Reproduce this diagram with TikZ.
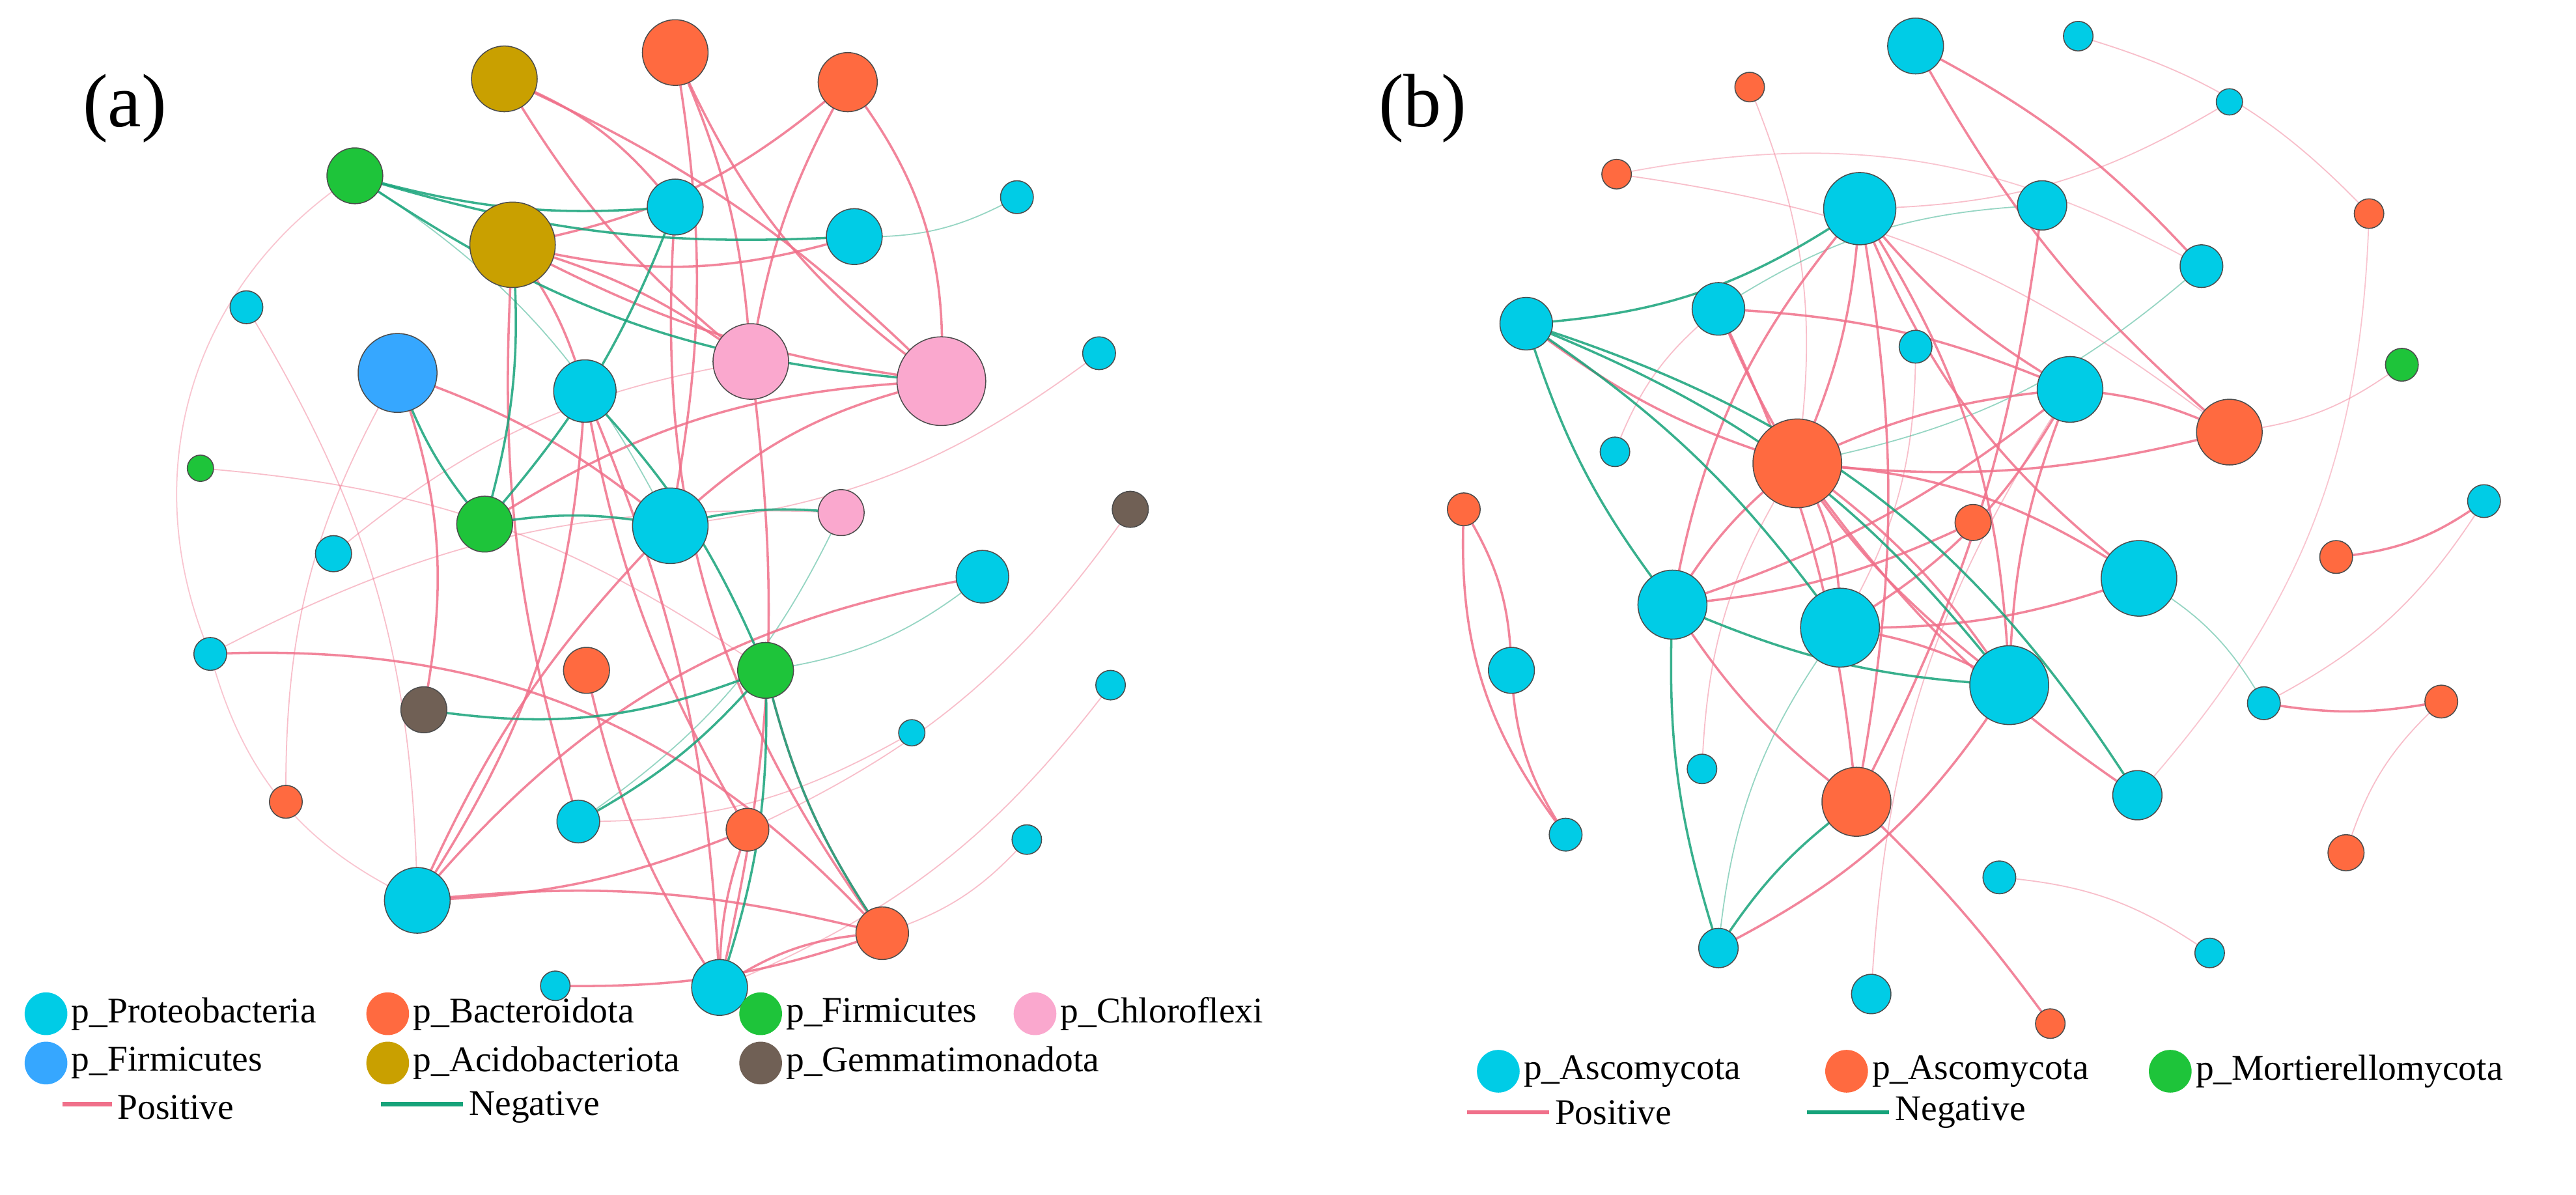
\documentclass[tikz,border=0pt]{standalone}
\usepackage{fontspec}
\setmainfont{Liberation Serif}
\begin{document}
\begin{tikzpicture}[x=1pt,y=-1pt,
 nd/.style={circle,draw=black!70,line width=0.6pt,inner sep=0pt},
 cy/.style={nd,fill=cyanC}, orn/.style={nd,fill=orC}, gr/.style={nd,fill=grC},
 bl/.style={nd,fill=blC}, go/.style={nd,fill=goC}, pk/.style={nd,fill=pkC}, br/.style={nd,fill=brC},
 posE/.style={draw=posC,line width=1.4pt,opacity=0.85},
 negE/.style={draw=negC,line width=1.4pt,opacity=0.85},
 lt/.style={font=\fontsize{22}{24}\selectfont,anchor=west}]
\definecolor{cyanC}{RGB}{0,204,230}
\definecolor{orC}{RGB}{255,106,64}
\definecolor{grC}{RGB}{30,196,58}
\definecolor{blC}{RGB}{54,167,255}
\definecolor{goC}{RGB}{201,160,0}
\definecolor{pkC}{RGB}{250,168,206}
\definecolor{brC}{RGB}{112,96,85}
\definecolor{posC}{RGB}{240,112,138}
\definecolor{negC}{RGB}{22,163,122}
\useasboundingbox (0,0) rectangle (1568,727);
\fill[white] (0,0) rectangle (1568,727);
\foreach \n/\x/\y/\r/\s in {a1/411/32/20/orn,a2/307/48/20/go,a3/516/50/18/orn,a4/216/107/17/gr,a5/411/126/17/cy,a6/520/144/17/cy,a7/619/120/10/cy,a8/312/149/26/go,a9/150/187/10/cy,a10/242/227/24/bl,a11/356/238/19/cy,a12/457/220/23/pk,a13/573/232/27/pk,a14/669/215/10/cy,a15/122/285/8/gr,a16/688/310/11/br,a17/203/337/11/cy,a18/295/319/17/gr,a19/408/320/23/cy,a20/512/312/14/pk,a21/598/351/16/cy,a22/128/398/10/cy,a23/357/408/14/orn,a24/466/408/17/gr,a25/258/432/14/br,a26/676/417/9/cy,a27/555/446/8/cy,a28/174/488/10/orn,a29/352/500/13/cy,a30/455/505/13/orn,a31/625/511/9/cy,a32/254/548/20/cy,a33/537/568/16/orn,a34/338/600/9/cy,a35/438/601/17/cy,
b1/1166/28/17/cy,b2/1265/22/9/cy,b3/1065/53/9/orn,b4/1357/62/8/cy,b5/984/106/9/orn,b6/1132/127/22/cy,b7/1243/125/15/cy,b8/1442/130/9/orn,b9/1340/162/13/cy,b10/1046/188/16/cy,b11/929/197/16/cy,b12/1166/211/10/cy,b13/1260/237/20/cy,b14/1462/222/10/gr,b15/1094/282/27/orn,b16/1357/263/20/orn,b17/983/275/9/cy,b18/1512/305/10/cy,b19/891/310/10/orn,b20/1201/318/11/orn,b21/1422/339/10/orn,b22/1018/368/21/cy,b23/1302/352/23/cy,b24/1120/382/24/cy,b25/920/408/14/cy,b26/1223/417/24/cy,b27/1378/428/10/cy,b28/1486/427/10/orn,b29/1036/468/9/cy,b30/1130/488/21/orn,b31/1301/484/15/cy,b32/953/508/10/cy,b33/1428/519/11/orn,b34/1217/534/10/cy,b35/1345/580/9/cy,b36/1046/577/12/cy,b37/1139/605/12/cy,b38/1248/623/9/orn}
 {\coordinate (\n) at (\x,\y);}
% faint edges
\foreach \a/\b in {a9/a32,a15/a24,a17/a12,a16/a30,a14/a19,a26/a35,a31/a33,a27/a29,a28/a10,a22/a20,b2/b8,b4/b6,b5/b16,b3/b15,b14/b16,b18/b27,b17/b10,b12/b24,b29/b15,b34/b35,b33/b28,b37/b13}
 {\draw[posE,line width=0.7pt,opacity=0.45] (\a) to[bend left=15] (\b);}
\draw[posE,line width=0.7pt,opacity=0.4] (a4) to[bend right=40] (a22);
\draw[posE,line width=0.7pt,opacity=0.4] (a22) to[bend right=25] (a32);
\draw[posE,line width=0.7pt,opacity=0.4] (b5) to[bend left=20] (b9);
\draw[posE,line width=0.7pt,opacity=0.4] (b8) to[bend left=20] (b31);
\foreach \a/\b in {a7/a6,a4/a19,a20/a29,a21/a24,b10/b7,b23/b27,b9/b15,b36/b24}
 {\draw[negE,line width=0.7pt,opacity=0.45] (\a) to[bend left=15] (\b);}
% strong edges
\foreach \a/\b/\bb in {a1/a12/10,a1/a13/-15,a1/a19/10,a2/a12/-10,a2/a13/10,a2/a5/15,a3/a13/20,a3/a12/-10,a3/a8/15,a8/a13/-10,a8/a12/10,a8/a6/-15,a10/a19/10,a10/a25/15,a11/a30/-10,a11/a35/10,a11/a32/15,a19/a32/-10,a21/a32/-20,a22/a33/25,a32/a33/10,a32/a30/-10,a35/a33/15,a35/a30/10,a34/a33/-10,a24/a33/-10,a19/a13/15,a23/a35/-10,a18/a13/15,a5/a33/-20,a12/a35/10,a8/a11/10,a8/a29/-10,
 b15/b13/10,b15/b16/-10,b15/b23/15,b15/b6/-10,b15/b26/10,b15/b24/15,b15/b22/-10,b6/b30/10,b6/b13/-10,b6/b26/15,b6/b23/-15,b1/b9/10,b1/b16/-10,b13/b16/10,b13/b24/15,b13/b26/-10,b10/b13/10,b10/b26/-15,b24/b26/10,b22/b13/-10,b30/b38/5,b30/b22/10,b25/b32/-15,b19/b32/-20,b19/b25/15,b11/b15/-10,b7/b30/10,b36/b26/-15,b24/b23/-10,b31/b15/10,b20/b22/10,b21/b18/-15,b28/b27/10,b6/b22/-15,b10/b30/10}
 {\draw[posE] (\a) to[bend left=\bb] (\b);}
\foreach \a/\b/\bb in {a4/a5/-10,a4/a6/-10,a4/a13/-15,a18/a10/10,a18/a19/10,a18/a5/-10,a25/a24/-15,a24/a35/10,a24/a33/-10,a11/a24/10,a29/a24/-10,a19/a20/10,a18/a8/-10,
 b11/b24/10,b11/b26/15,b11/b22/-10,b11/b31/20,b11/b6/-15,b36/b30/10,b22/b26/-10,b36/b22/10}
 {\draw[negE] (\a) to[bend left=\bb] (\b);}
% nodes
\foreach \n/\x/\y/\r/\s in {a1/411/32/20/orn,a2/307/48/20/go,a3/516/50/18/orn,a4/216/107/17/gr,a5/411/126/17/cy,a6/520/144/17/cy,a7/619/120/10/cy,a8/312/149/26/go,a9/150/187/10/cy,a10/242/227/24/bl,a11/356/238/19/cy,a12/457/220/23/pk,a13/573/232/27/pk,a14/669/215/10/cy,a15/122/285/8/gr,a16/688/310/11/br,a17/203/337/11/cy,a18/295/319/17/gr,a19/408/320/23/cy,a20/512/312/14/pk,a21/598/351/16/cy,a22/128/398/10/cy,a23/357/408/14/orn,a24/466/408/17/gr,a25/258/432/14/br,a26/676/417/9/cy,a27/555/446/8/cy,a28/174/488/10/orn,a29/352/500/13/cy,a30/455/505/13/orn,a31/625/511/9/cy,a32/254/548/20/cy,a33/537/568/16/orn,a34/338/600/9/cy,a35/438/601/17/cy,
b1/1166/28/17/cy,b2/1265/22/9/cy,b3/1065/53/9/orn,b4/1357/62/8/cy,b5/984/106/9/orn,b6/1132/127/22/cy,b7/1243/125/15/cy,b8/1442/130/9/orn,b9/1340/162/13/cy,b10/1046/188/16/cy,b11/929/197/16/cy,b12/1166/211/10/cy,b13/1260/237/20/cy,b14/1462/222/10/gr,b15/1094/282/27/orn,b16/1357/263/20/orn,b17/983/275/9/cy,b18/1512/305/10/cy,b19/891/310/10/orn,b20/1201/318/11/orn,b21/1422/339/10/orn,b22/1018/368/21/cy,b23/1302/352/23/cy,b24/1120/382/24/cy,b25/920/408/14/cy,b26/1223/417/24/cy,b27/1378/428/10/cy,b28/1486/427/10/orn,b29/1036/468/9/cy,b30/1130/488/21/orn,b31/1301/484/15/cy,b32/953/508/10/cy,b33/1428/519/11/orn,b34/1217/534/10/cy,b35/1345/580/9/cy,b36/1046/577/12/cy,b37/1139/605/12/cy,b38/1248/623/9/orn}
 {\node[\s,minimum size=2*\r] (n\n) at (\n) {};}
\node[font=\fontsize{46}{50}\selectfont] (ta) at (76,66) {(a)};
\node[font=\fontsize{46}{50}\selectfont] (tb) at (866,66) {(b)};
\foreach \n/\x/\y/\s/\t in {la1/28/617/cy/p\_Proteobacteria,la2/236/617/orn/p\_Bacteroidota,la3/463/617/gr/p\_Firmicutes,la4/630/617/pk/p\_Chloroflexi,la5/28/647/bl/p\_Firmicutes,la6/236/647/go/p\_Acidobacteriota,la7/463/647/br/p\_Gemmatimonadota,lb1/912/652/cy/p\_Ascomycota,lb2/1124/652/orn/p\_Ascomycota,lb3/1321/652/gr/p\_Mortierellomycota}
 {\node[\s,draw=none,minimum size=26] (\n) at (\x,\y) {}; \node[lt] (t\n) at (\x+12,\y) {\t};}
\coordinate (p1) at (38,672); \coordinate (p2) at (68,672);
\coordinate (q1) at (232,672); \coordinate (q2) at (282,672);
\coordinate (p3) at (893,677); \coordinate (p4) at (943,677);
\coordinate (q3) at (1100,677); \coordinate (q4) at (1150,677);
\draw[posC,line width=2.5pt] (p1) -- (p2); \node[lt] (tp1) at (68,674) {Positive};
\draw[negC,line width=2.5pt] (q1) -- (q2); \node[lt] (tq1) at (282,674) {Negative};
\draw[posC,line width=2.5pt] (p3) -- (p4); \node[lt] (tp2) at (943,677) {Positive};
\draw[negC,line width=2.5pt] (q3) -- (q4); \node[lt] (tq2) at (1150,677) {Negative};
\end{tikzpicture}
\end{document}
